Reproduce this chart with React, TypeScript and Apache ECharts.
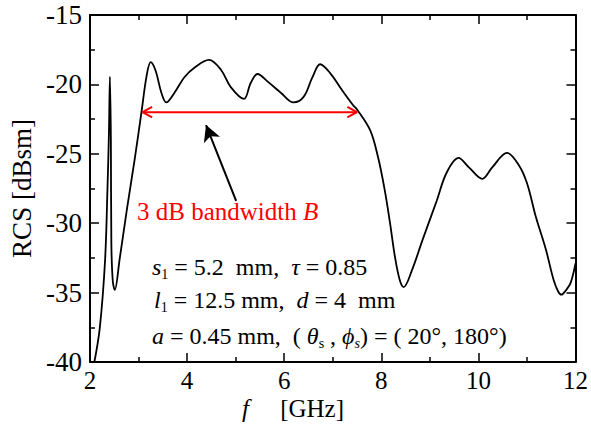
import React, { useEffect, useRef } from 'react';
import * as echarts from 'echarts';

// Frequency (GHz) and RCS (dBsm) samples
const freqGHz = [
  2.09, 2.2, 2.31, 2.36, 2.39, 2.41, 2.43, 2.44, 2.47, 2.51, 2.61, 2.76, 2.92, 3.06, 3.17, 3.25,
  3.35, 3.47, 3.57, 3.74, 3.94, 4.15, 4.45, 4.7, 4.9, 5.17, 5.31, 5.45, 5.66, 5.93, 6.19, 6.4,
  6.58, 6.74, 6.95, 7.19, 7.42, 7.5, 7.77, 7.93, 8.07, 8.18, 8.28, 8.38, 8.46, 8.63, 8.85, 9.14,
  9.34, 9.59, 9.81, 10.08, 10.28, 10.59, 10.83, 11.0, 11.18, 11.39, 11.55, 11.64, 11.71, 11.8, 11.9, 12.0,
];
const rcsDBsm = [
  -40.0, -37.6, -32.7, -27.5, -23.5, -19.45, -24.0, -31.5, -34.2, -34.8, -32.6, -29.0, -25.4, -22.0, -19.3, -18.4,
  -19.0, -20.6, -21.3, -20.6, -19.5, -18.8, -18.24, -18.96, -20.2, -21.05, -19.9, -19.25, -19.8, -20.6, -21.3, -20.9,
  -19.5, -18.55, -19.2, -20.4, -21.5, -21.8, -23.3, -25.2, -27.6, -30.0, -32.4, -34.1, -34.6, -33.4, -31.2, -28.4,
  -26.4, -25.3, -26.0, -26.8, -26.0, -24.94, -25.8, -27.1, -29.5, -31.9, -34.1, -34.9, -35.15, -34.85, -34.3, -32.9,
];

// 3 dB bandwidth arrow (GHz, dBsm)
const bandwidthFreq = [3.08, 7.5];
const bandwidthLevel = -22.0;
// pointer arrow: tail -> head (GHz, dBsm)
const pointerFreq = [5.01, 4.39];
const pointerLevel = [-28.4, -22.93];

const xRange = [2, 12];
const xInterval = 2;
const yRange = [-40, -15];
const yInterval = 5;

const SERIF = '"Liberation Serif", "Times New Roman", serif';

export default function App() {
  const ref = useRef<HTMLDivElement>(null);
  useEffect(() => {
    document.body.style.margin = '0';
    if (!ref.current) return;
    const chart = echarts.init(ref.current, undefined, { renderer: 'svg' });

    const headDx = 0.2;
    const headDy = 0.38;
    const [b0, b1] = bandwidthFreq;

    const axisCommon = {
      type: 'value' as const,
      axisLine: { show: true, onZero: false, lineStyle: { color: '#000', width: 2 } },
      axisTick: { show: true, inside: true, length: 9, lineStyle: { color: '#000', width: 1.5 } },
      minorTick: { show: true, splitNumber: 2, length: 5, lineStyle: { color: '#000', width: 1.5 } },
      splitLine: { show: false },
    };

    const rich = {
      n: { fontFamily: SERIF, fontSize: 24, fill: '#000' },
      i: { fontFamily: SERIF, fontSize: 24, fontStyle: 'italic', fill: '#000' },
      sub: { fontFamily: SERIF, fontSize: 14, fill: '#000', padding: [14, 0, 0, 0] },
      isub: { fontFamily: SERIF, fontSize: 14, fontStyle: 'italic', fill: '#000', padding: [14, 0, 0, 0] },
      r: { fontFamily: SERIF, fontSize: 25, fill: '#ff0000' },
      ri: { fontFamily: SERIF, fontSize: 25, fontStyle: 'italic', fill: '#ff0000' },
      xn: { fontFamily: SERIF, fontSize: 25, fill: '#000' },
      xi: { fontFamily: SERIF, fontSize: 25, fontStyle: 'italic', fill: '#000' },
    };

    chart.setOption({
      animation: false,
      backgroundColor: '#fff',
      grid: { left: 88, right: 14, top: 15, bottom: 65 },
      xAxis: [
        {
          ...axisCommon,
          min: xRange[0], max: xRange[1], interval: xInterval, position: 'bottom',
          axisLabel: { color: '#000', fontFamily: SERIF, fontSize: 25, margin: 6 },
        },
        {
          ...axisCommon,
          min: xRange[0], max: xRange[1], interval: xInterval, position: 'top',
          axisLabel: { show: false },
        },
      ],
      yAxis: [
        {
          ...axisCommon,
          min: yRange[0], max: yRange[1], interval: yInterval, position: 'left',
          axisLabel: { color: '#000', fontFamily: SERIF, fontSize: 27, margin: 8 },
          name: 'RCS [dBsm]',
          nameLocation: 'middle',
          nameGap: 55,
          nameTextStyle: { color: '#000', fontFamily: SERIF, fontSize: 27 },
        },
        {
          ...axisCommon,
          min: yRange[0], max: yRange[1], interval: yInterval, position: 'right',
          axisLabel: { show: false },
        },
      ],
      series: [
        {
          type: 'line',
          data: freqGHz.map((f, i) => [f, rcsDBsm[i]]),
          smooth: 0.35,
          symbol: 'none',
          clip: true,
          lineStyle: { color: '#000', width: 1.8 },
          silent: true,
        },
        {
          type: 'line',
          data: bandwidthFreq.map((f) => [f, bandwidthLevel]),
          symbol: 'none',
          lineStyle: { color: '#ff0000', width: 2 },
          silent: true,
        },
        {
          type: 'line',
          data: [[b0 + headDx, bandwidthLevel + headDy], [b0, bandwidthLevel], [b0 + headDx, bandwidthLevel - headDy]],
          symbol: 'none',
          lineStyle: { color: '#ff0000', width: 2 },
          silent: true,
        },
        {
          type: 'line',
          data: [[b1 - headDx, bandwidthLevel + headDy], [b1, bandwidthLevel], [b1 - headDx, bandwidthLevel - headDy]],
          symbol: 'none',
          lineStyle: { color: '#ff0000', width: 2 },
          silent: true,
        },
        {
          type: 'line',
          data: [],
          silent: true,
          markLine: {
            silent: true,
            symbol: ['none', 'arrow'],
            symbolSize: [13, 16],
            label: { show: false },
            lineStyle: { color: '#000', width: 2, type: 'solid' },
            data: [
              [
                { coord: [pointerFreq[0], pointerLevel[0]] },
                { coord: [pointerFreq[1], pointerLevel[1]] },
              ],
            ],
          },
        },
      ],
      graphic: [
        {
          type: 'text', x: 137, y: 211,
          style: { text: '{r|3 dB bandwidth }{ri|B}', verticalAlign: 'middle', rich },
        },
        {
          type: 'text', x: 152, y: 267,
          style: { text: '{i|s}{sub|1}{n| = 5.2  mm,  }{i|τ}{n| = 0.85}', verticalAlign: 'middle', rich },
        },
        {
          type: 'text', x: 154, y: 300,
          style: { text: '{i|l}{sub|1}{n| = 12.5 mm,  }{i|d}{n| = 4  mm}', verticalAlign: 'middle', rich },
        },
        {
          type: 'text', x: 152, y: 336,
          style: {
            text: '{i|a}{n| = 0.45 mm,  ( }{i|θ}{sub|s}{n| , }{i|ϕ}{isub|s}{n|) = ( 20°, 180°)}',
            verticalAlign: 'middle', rich,
          },
        },
        {
          type: 'text', x: 242, y: 408,
          style: { text: '{xi|f}{xn|     [GHz]}', verticalAlign: 'middle', rich },
        },
      ],
    });
    return () => chart.dispose();
  }, []);
  return <div ref={ref} style={{ width: 591, height: 427 }} />;
}
